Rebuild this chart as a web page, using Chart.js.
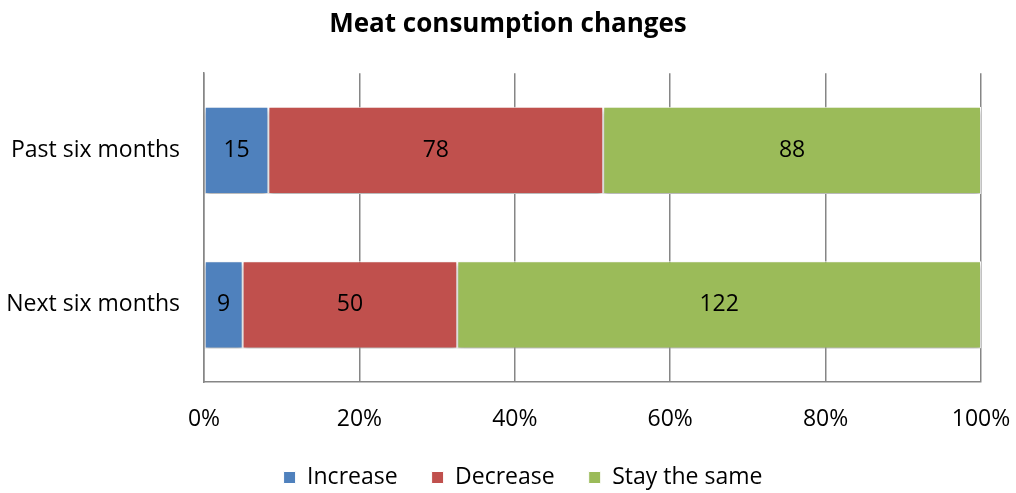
<!DOCTYPE html>
<html>
<head>
<meta charset="utf-8">
<script src="https://cdn.jsdelivr.net/npm/chart.js@4/dist/chart.umd.min.js"></script>
<style>
  html, body { margin: 0; padding: 0; background: #fff; }
  #wrap { width: 1016px; height: 493px; }
</style>
</head>
<body>
<div id="wrap"><canvas id="chart"></canvas></div>
<script>
const categories = ["Past six months", "Next six months"];
const seriesNames = ["Increase", "Decrease", "Stay the same"];
const increase = [15, 9];
const decrease = [78, 50];
const staySame = [88, 122];
const tickLabels = ["0%", "20%", "40%", "60%", "80%", "100%"];

const colors = ["#4F81BD", "#C0504D", "#9BBB59"];
const counts = [increase, decrease, staySame];
const totals = categories.map((_, i) => counts.reduce((s, arr) => s + arr[i], 0));

const font = "'Open Sans'";

// draw the raw counts in the middle of each segment
const barLabels = {
  id: "barLabels",
  afterDatasetsDraw(chart) {
    const ctx = chart.ctx;
    ctx.save();
    ctx.font = "23px " + font;
    ctx.fillStyle = "#000";
    ctx.textAlign = "center";
    ctx.textBaseline = "middle";
    chart.data.datasets.forEach((ds, di) => {
      chart.getDatasetMeta(di).data.forEach((bar, i) => {
        const cx = (bar.x + bar.base) / 2;
        ctx.fillText(ds.counts[i], cx, bar.y);
      });
    });
    ctx.restore();
  },
};

// soft shadow under the bars
const barShadow = {
  id: "barShadow",
  beforeDatasetsDraw(chart) {
    const ctx = chart.ctx;
    ctx.save();
    ctx.shadowColor = "rgba(0,0,0,0.35)";
    ctx.shadowBlur = 5;
    ctx.shadowOffsetY = 3;
  },
  afterDatasetsDraw(chart) {
    chart.ctx.restore();
  },
};

// wide gaps between legend items but a short legend box, nudged right a bit
const legendTweak = {
  id: "legendTweak",
  afterInit(chart) {
    const originalFit = chart.legend.fit;
    chart.legend.fit = function fit() {
      originalFit.call(this);
      this.height = 61;
    };
  },
  afterLayout(chart) {
    chart.legend.left += 15;
    chart.legend.right += 15;
  },
};

const datasets = seriesNames.map((name, k) => ({
  label: name,
  counts: counts[k],
  data: counts[k].map((v, i) => (v / totals[i]) * 100),
  backgroundColor: colors[k],
  borderColor: "#ffffff",
  borderWidth: 1,
  borderSkipped: false,
  barPercentage: 0.565,
  categoryPercentage: 1,
}));

new Chart(document.getElementById("chart"), {
  type: "bar",
  data: { labels: categories, datasets: datasets },
  options: {
    indexAxis: "y",
    responsive: true,
    maintainAspectRatio: false,
    animation: false,
    layout: { padding: 0 },
    scales: {
      x: {
        stacked: true,
        min: 0,
        max: 100,
        ticks: {
          stepSize: 20,
          color: "#000",
          font: { family: font, size: 23 },
          padding: 24,
          callback: (v, i) => tickLabels[i],
        },
        grid: { color: "#868686", lineWidth: 1.5, drawTicks: false },
        border: { color: "#868686", width: 1.5 },
        afterFit(scale) {
          scale.paddingRight = 35;
          scale.height = 50;
        },
      },
      y: {
        stacked: true,
        ticks: {
          color: "#000",
          font: { family: font, size: 23 },
          padding: 24,
        },
        grid: { display: false, drawTicks: false },
        border: { color: "#868686", width: 1.5 },
        afterFit(scale) { scale.width = 204; },
      },
    },
    plugins: {
      title: {
        display: true,
        text: "Meat consumption changes",
        color: "#000",
        font: { family: font, size: 26, weight: "bold" },
        padding: { top: 9, bottom: 33 },
      },
      legend: {
        position: "bottom",
        labels: {
          color: "#000",
          font: { family: font, size: 23 },
          boxWidth: 12,
          boxHeight: 12,
          padding: 34,
        },
      },
      tooltip: { enabled: false },
    },
  },
  plugins: [barShadow, barLabels, legendTweak],
});
</script>
</body>
</html>
